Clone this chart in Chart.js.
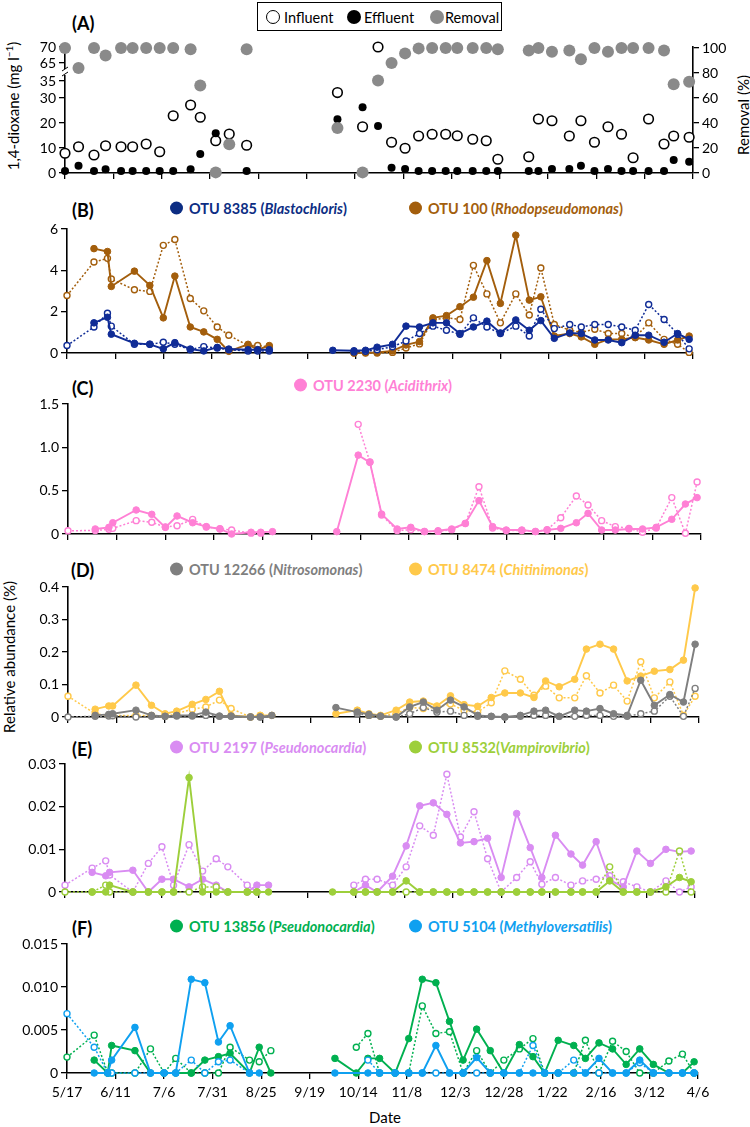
<!DOCTYPE html>
<html><head><meta charset="utf-8">
<script src="https://cdn.jsdelivr.net/npm/chart.js@4.4.1/dist/chart.umd.min.js"></script>
<style>
body{margin:0;background:#fff;width:750px;height:1127px;position:relative;overflow:hidden;font-family:Lato,sans-serif;color:#000}
canvas{position:absolute;left:0}
.pl{position:absolute;font-weight:bold;font-size:18px;transform:translateY(-50%);white-space:nowrap}
.lg{position:absolute;font-weight:bold;font-size:14.5px;transform:translateY(-50%);white-space:nowrap;display:flex;align-items:center}
.dot{width:13px;height:13px;border-radius:50%;display:inline-block;margin-right:6px}
.ax{position:absolute;font-size:15px;white-space:nowrap;transform:translate(-50%,-50%)}
.rot{transform:translate(-50%,-50%) rotate(-90deg)}
#legA{position:absolute;left:257px;top:2px;width:243px;height:27px;border:1.3px solid #000;font-size:14.5px}
#legA .it{position:absolute;top:50%;transform:translateY(-50%);white-space:nowrap}
#legA .c{position:absolute;top:50%;width:14px;height:14px;border-radius:50%;transform:translate(-50%,-50%);box-sizing:border-box}
</style></head><body>

<div class="pl" style="left:72px;top:23px">(A)</div>
<div class="pl" style="left:72px;top:210px">(B)</div>
<div class="pl" style="left:72px;top:388px">(C)</div>
<div class="pl" style="left:71px;top:570px">(D)</div>
<div class="pl" style="left:72px;top:749px">(E)</div>
<div class="pl" style="left:72px;top:928px">(F)</div>

<div id="legA">
  <span class="c" style="left:15px;border:1.6px solid #000;background:#fff"></span><span class="it" style="left:26px">Influent</span>
  <span class="c" style="left:96px;background:#000"></span><span class="it" style="left:106px">Effluent</span>
  <span class="c" style="left:179px;background:#8a8a8a"></span><span class="it" style="left:187px">Removal</span>
</div>

<div class="lg" style="left:170px;top:208px;color:#0c2d83"><span class="dot" style="background:#0c2d83"></span>OTU 8385 (<i>Blastochloris</i>)</div>
<div class="lg" style="left:409px;top:208px;color:#a35e0c"><span class="dot" style="background:#a35e0c"></span>OTU 100 (<i>Rhodopseudomonas</i>)</div>
<div class="lg" style="left:294px;top:385px;color:#ff80d5"><span class="dot" style="background:#ff80d5"></span>OTU 2230 (<i>Acidithrix</i>)</div>
<div class="lg" style="left:170px;top:569px;color:#7f7f7f"><span class="dot" style="background:#7f7f7f"></span>OTU 12266 (<i>Nitrosomonas</i>)</div>
<div class="lg" style="left:409px;top:569px;color:#ffc94a"><span class="dot" style="background:#ffc94a"></span>OTU 8474 (<i>Chitinimonas</i>)</div>
<div class="lg" style="left:170px;top:747px;color:#d98cf2"><span class="dot" style="background:#d98cf2"></span>OTU 2197 (<i>Pseudonocardia</i>)</div>
<div class="lg" style="left:409px;top:747px;color:#9dcf3b"><span class="dot" style="background:#9dcf3b"></span>OTU 8532(<i>Vampirovibrio</i>)</div>
<div class="lg" style="left:170px;top:926px;color:#00b050"><span class="dot" style="background:#00b050"></span>OTU 13856 (<i>Pseudonocardia</i>)</div>
<div class="lg" style="left:409px;top:926px;color:#0fa0f0"><span class="dot" style="background:#0fa0f0"></span>OTU 5104 (<i>Methyloversatilis</i>)</div>

<div class="ax rot" style="left:12px;top:106px">1,4-dioxane (mg l<sup style="font-size:10px">−1</sup>)</div>
<div class="ax rot" style="left:743px;top:115px">Removal (%)</div>
<div class="ax rot" style="left:9px;top:657px">Relative abundance (%)</div>
<div class="ax" style="left:385px;top:1117px">Date</div>

<script>
// ---------- x axis (days since 5/17) ----------
const DATE_LABELS = ['5/17','6/11','7/6','7/31','8/25','9/19','10/14','11/8','12/3','12/28','1/22','2/16','3/12','4/6'];
const TICK_DAYS = [0,25,50,75,100,125,150,175,200,225,250,275,300,325];

// ---------- panel A ----------
const DAYS_A = [0,7,15,21,29,35,42,49,56,65,70,78,85,94,
  141,154,162,169,176,183,190,197,203,211,218,224,240,245,252,261,267,274,281,288,294,302,310,315,323];
const INFLUENT = [7.9,10.5,7.2,10.9,10.5,10.5,11.6,8.5,22.9,27.2,22.3,12.9,15.6,11.1,
  31.6,18.5,70,12.3,9.9,14.8,15.5,15.5,14.9,13.5,12.9,5.5,6.5,21.6,20.9,14.8,20.9,12.3,18.5,15.5,6.1,21.6,11.6,14.8,14.3];
const EFFLUENT = [0.8,2.9,0.8,1.5,0.8,0.8,0.8,0.8,0.8,1.5,7.6,15.9,12,0.8,
  21.5,26.3,18.8,2.1,1.6,0.8,0.8,0.8,0.8,0.8,0.8,0.8,0.8,0.8,1.6,1.6,2.9,0.8,1.6,0.8,0.8,0.8,0.8,5.2,4.5];
const REMOVAL = [100,84,100,94,100,100,100,100,100,99,70,0.5,23,99,
  36,0.5,74,88,95.7,99.7,100,100,100,100,100,99,98,100,97,98,91,100,97,100,100,100,98,71,73];
const A_LEFT_TICKS = [0,10,20,30,35,65,70];
const A_RIGHT_TICKS = [0,20,40,60,80,100];

// ---------- panels B-F sampling days ----------
const DAYS = [0,14,21,23,35,43,50,56,64,71,78,84,94,99,105,
  138,149,155,161,169,176,183,190,197,204,211,218,225,233,240,246,253,261,267,274,281,288,295,302,310,317,323];

// B
const OTU8385_FILL = [null,1.46,1.73,0.91,0.47,0.42,0.20,0.50,0.19,0.10,0.27,0.19,0.16,0.16,0.16,
  0.13,0.11,0.13,0.28,0.42,1.30,1.26,1.46,1.46,0.94,1.26,1.54,0.97,1.60,1.10,1.57,0.71,0.97,0.94,0.63,0.63,0.50,0.86,0.86,0.52,0.94,0.66];
const OTU8385_OPEN = [0.36,1.26,1.92,1.30,0.42,0.42,0.52,0.42,0.16,0.31,0.24,0.16,0.10,0.10,0.10,
  null,0.05,0.08,0.16,0.30,0.58,0.94,1.30,1.10,0.91,1.70,1.26,0.94,1.30,0.82,2.12,1.18,1.38,1.26,1.38,1.38,1.26,1.10,2.35,1.62,0.91,0.20];
const OTU100_FILL = [null,5.05,4.91,3.22,3.96,3.27,1.70,3.72,1.26,1.02,0.66,0.08,0.42,0.16,0.36,
  null,0.00,0.02,0.03,0.10,0.39,0.55,1.70,1.81,2.24,2.70,4.47,2.40,5.70,2.56,2.72,0.82,0.94,0.78,0.42,0.66,0.66,0.75,0.63,0.42,0.63,0.82];
const OTU100_OPEN = [2.78,4.40,4.58,3.58,3.06,2.98,5.21,5.49,2.64,2.04,1.26,0.86,0.36,0.36,0.30,
  null,0.00,0.00,0.00,0.03,0.24,0.44,1.60,1.70,1.62,4.24,2.86,1.46,2.86,1.84,4.11,1.38,1.10,1.00,1.15,0.94,0.94,0.75,1.46,0.66,0.42,0.03];
const B_TICKS = [0,2,4,6], B_LABELS = ['0','2','4','6'];

// C
const OTU2230_FILL = [null,0.058,0.077,0.13,0.277,0.227,0.077,0.208,0.13,0.085,0.058,0.0,0.02,0.02,0.027,
  0.027,0.91,0.827,0.23,0.058,0.077,0.027,0.038,0.058,0.123,0.385,0.085,0.046,0.046,0.027,0.046,0.065,0.13,0.238,0.046,0.046,0.058,0.058,0.077,0.17,0.346,0.42];
const OTU2230_OPEN = [0.038,0.04,0.054,0.065,0.154,0.135,0.08,0.096,0.169,0.08,0.06,0.046,0.01,0.01,null,
  null,1.265,0.83,0.22,0.04,0.05,0.03,0.03,0.05,0.12,0.546,0.07,0.04,0.04,0.03,0.05,0.188,0.438,0.335,0.154,0.085,0.065,0.02,0.07,0.42,0.008,0.6];
const C_TICKS = [0,0.5,1.0,1.5], C_LABELS = ['0','0.5','1.0','1.5'];

// D
const OTU12266_FILL = [null,0.005,0.008,0.01,0.021,0.005,0.002,0.005,0.005,0.015,0.003,0.003,0.0,0.0,0.005,
  0.029,0.015,0.008,0.003,0.0,0.031,0.046,0.021,0.052,0.031,0.005,0.002,0.0,0.005,0.018,0.021,0.002,0.021,0.018,0.026,0.01,0.005,0.113,0.036,0.069,0.046,0.224];
const OTU12266_OPEN = [0.0,0.002,0.003,0.004,0.0,0.002,0.002,0.003,0.003,0.005,0.002,0.002,0.0,0.0,null,
  null,0.01,0.005,0.002,0.0,0.01,0.029,0.015,0.018,0.005,0.002,0.002,0.0,0.002,0.005,0.005,0.002,0.002,0.005,0.005,0.002,0.002,0.01,0.018,0.064,0.002,0.088];
const OTU8474_FILL = [null,0.024,0.034,0.034,0.098,0.036,0.01,0.018,0.039,0.054,0.079,0.005,0.0,0.005,0.005,
  0.01,0.021,0.01,0.005,0.021,0.046,0.049,0.034,0.065,0.038,0.033,0.06,0.074,0.074,0.06,0.111,0.093,0.116,0.209,0.224,0.209,0.111,0.126,0.141,0.146,0.175,0.397];
const OTU8474_OPEN = [0.064,0.01,0.005,0.005,0.005,0.005,0.002,0.01,0.024,0.031,0.052,0.026,0.0,0.005,null,
  null,0.02,0.005,0.002,0.01,0.03,0.026,0.03,0.04,0.02,0.015,0.044,0.142,0.116,0.067,0.095,0.059,0.059,0.127,0.074,0.098,0.049,0.17,0.059,0.108,0.005,0.064];
const D_TICKS = [0,0.1,0.2,0.3,0.4], D_LABELS = ['0','0.1','0.2','0.3','0.4'];

// E
const OTU2197_FILL = [null,0.0046,0.0038,0.0046,0.0051,0.0,0.003,0.003,0.0012,0.003,0.0016,0.0,0.0,0.0016,0.0016,
  null,0.0,0.0016,0.0,0.0037,0.0108,0.0202,0.0209,0.0182,0.0115,0.0118,0.0126,0.0034,0.0184,0.0104,0.0034,0.0133,0.0089,0.0063,0.0118,0.0028,0.0012,0.0096,0.0067,0.01,0.0094,0.0096];
const OTU2197_OPEN = [0.0016,0.0056,0.0073,0.004,0.0,0.0067,0.0106,0.0016,0.0111,0.0049,0.0078,0.0059,0.0016,0.0,null,
  null,0.0016,0.003,0.003,0.0016,0.0059,0.0155,0.0133,0.0276,0.0129,0.0188,0.0078,0.0,0.0034,0.0071,0.0018,0.0034,0.0016,0.0026,0.003,0.0038,0.0024,0.0012,0.0,0.0026,0.0,0.0012];
const OTU8532_FILL = [null,0,0,0.0016,0,0,0,0,0.0268,0,0,0,0,0,0,
  0,0,0,0,0,0.0026,0,0,0,0,0,0,0,0,0,0,0,0,0,0,0.0026,0,0,0,0.0012,0.0034,0.0024];
const OTU8532_OPEN = [0,0,0.0016,0,0,0,0,0,0,0.0012,0.0012,0,0,0,null,
  null,0,0,0,0,0,0,0,0,0,0,0,0,0,0,0,0,0,0,0,0.0059,0,0,0,0,0.0096,0];
const E_TICKS = [0,0.01,0.02,0.03], E_LABELS = ['0','0.01','0.02','0.03'];

// F
const OTU13856_FILL = [null,0.0015,0,0.0032,0.0026,0,0,0,0,0.0015,0.0019,0.0023,0,0.003,0,
  0.0017,0,0.0017,0.0017,0,0.004,0.0109,0.0105,0.006,0.0015,0.0051,0.0026,0,0.0033,0.0019,0,0.0038,0.0032,0.0017,0.0035,0.0028,0.001,0.0028,0.001,0,0,0.0013];
const OTU13856_OPEN = [0.00185,0.0044,0,0,0,0.0028,0,0.0017,0,0,0,0.003,0.0015,0.0013,0.0026,
  null,0.003,0.0046,0,0,0,0.0078,0.0046,0.0048,0,0.0026,0,0.0015,0.0028,0.004,0,0,0,0.0038,0,0.0037,0.0025,0,0,0.0014,0.0022,0];
const OTU5104_FILL = [null,0,0,0.0015,0.0053,0,0,0,0.0109,0.0105,0.0036,0.0055,0,0,null,
  0,null,0,0,0,0,0,0.0032,0,0,0.0018,0,0,0,0,0,0,0,0,0.0017,0,0,0.0015,0,0,0,0];
const OTU5104_OPEN = [0.0069,0.003,0,0,0,0,0,0,0.0015,0,0.0013,0.0015,0,null,null,
  null,null,0.0015,0,0,0,0,0,0,0,0,0,0,0,0.0032,0,0,0.0015,0,0,0,0,0.0012,0,0,0,0];
const F_TICKS = [0,0.005,0.01,0.015], F_LABELS = ['0','0.005','0.010','0.015'];

// ---------- helpers ----------
const FONT = {family:'Lato', size:14};
function brk(v){ // broken dioxane axis: 0-35 then 65-70
  if (v <= 30) return v;
  if (v <= 35) return 30 + (v-30)*1.36;
  return 44 + (v-65)*1.28;
}
function xAxis(box, canvasBottom, showLabels){
  return {type:'linear', min:0, max:325, position:'bottom',
    afterBuildTicks: s => { s.ticks = TICK_DAYS.map(v => ({value:v})); },
    afterFit: s => { s.height = canvasBottom - box.bottom; },
    ticks:{display:showLabels, autoSkip:false, maxRotation:0, color:'#000', font:FONT, padding:5,
      callback:(v,i) => DATE_LABELS[i]},
    grid:{drawOnChartArea:false, drawTicks:true, tickLength:6, color:'#000', lineWidth:1.3},
    border:{color:'#000', width:1.6}};
}
function yAxis(ticksArr, labels, min, max, width, pos){
  return {type:'linear', position:pos||'left', min, max,
    afterBuildTicks: s => { s.ticks = ticksArr.map(v => ({value:v})); },
    afterFit: s => { s.width = width; },
    ticks:{color:'#000', font:FONT, padding:3, callback:(v,i) => labels[i]},
    grid:{drawOnChartArea:false, drawTicks:true, tickLength:6, color:'#000', lineWidth:1.3},
    border:{color:'#000', width:1.6}};
}
function series(vals, color, open, order){
  return {data: DAYS.map((x,i) => ({x, y: vals[i]})).filter(p => p.y !== null && p.y !== undefined),
    borderColor:color, backgroundColor:color,
    borderWidth: open ? 1.5 : 1.9, borderDash: open ? [2,2] : [],
    pointRadius: open ? 3 : 3.3, pointBackgroundColor: open ? '#fff' : color,
    pointBorderColor: color, pointBorderWidth: open ? 1.4 : 1,
    spanGaps: 20, clip: false, order, tension: 0};
}
function panel(top, height, box, scales, datasets, plugins){
  const c = document.createElement('canvas');
  c.width = 750; c.height = height;
  c.style.top = top + 'px'; c.style.width = '750px'; c.style.height = height + 'px';
  document.body.appendChild(c);
  const hasRight = !!scales.y2;
  new Chart(c, {type:'line', data:{datasets},
    options:{responsive:false, animation:false, devicePixelRatio:1, events:[],
      layout:{padding:{top: box.top - top, left:0, bottom:0, right: hasRight ? 0 : 750 - box.right}},
      plugins:{legend:{display:false}, tooltip:{enabled:false}},
      scales},
    plugins: plugins || []});
}

// ---------- Panel A ----------
const breakPlugin = {id:'axisBreak', afterDraw(chart){
  const ctx = chart.ctx, x = chart.chartArea.left, ys = chart.scales.y;
  const yb = (ys.getPixelForValue(brk(35)) + ys.getPixelForValue(brk(65))) / 2;
  ctx.save();
  ctx.fillStyle = '#fff'; ctx.fillRect(x-4, yb-3, 8, 6);
  ctx.strokeStyle = '#000'; ctx.lineWidth = 1;
  ctx.beginPath();
  ctx.moveTo(x-3, yb-1); ctx.lineTo(x+3, yb-5);
  ctx.moveTo(x-3, yb+4); ctx.lineTo(x+3, yb);
  ctx.stroke(); ctx.restore();
}};
(function(){
  const box = {left:65, right:693, top:47, bottom:173};
  const top = 0, h = 185;
  const yL = yAxis(A_LEFT_TICKS.map(brk), A_LEFT_TICKS.map(String), 0, 50.4, 65);
  const yR = yAxis(A_RIGHT_TICKS, A_RIGHT_TICKS.map(String), 0, 100.8, 750 - box.right, 'right');
  panel(top, h, box, {x: xAxis(box, top + h, false), y: yL, y2: yR}, [
    {data: DAYS_A.map((x,i) => ({x, y: REMOVAL[i]})), yAxisID:'y2', showLine:false,
      pointRadius:6, pointBackgroundColor:'#8a8a8a', pointBorderColor:'#8a8a8a', pointBorderWidth:0, clip:false, order:0},
    {data: DAYS_A.map((x,i) => ({x, y: brk(EFFLUENT[i])})), yAxisID:'y', showLine:false,
      pointRadius:4, pointBackgroundColor:'#000', pointBorderColor:'#000', pointBorderWidth:0, clip:false, order:1},
    {data: DAYS_A.map((x,i) => ({x, y: brk(INFLUENT[i])})), yAxisID:'y', showLine:false,
      pointRadius:4.8, pointBackgroundColor:'#fff', pointBorderColor:'#000', pointBorderWidth:1.6, clip:false, order:2}
  ], [breakPlugin]);
})();

// ---------- Panel B ----------
(function(){
  const box = {left:67, right:693, top:229, bottom:353};
  const top = 186, h = 180;
  panel(top, h, box, {x: xAxis(box, top+h, false), y: yAxis(B_TICKS, B_LABELS, 0, 6, box.left)}, [
    series(OTU8385_FILL, '#102c96', false, 0),
    series(OTU8385_OPEN, '#102c96', true, 1),
    series(OTU100_FILL, '#a35e0c', false, 2),
    series(OTU100_OPEN, '#a35e0c', true, 3)
  ]);
})();

// ---------- Panel C ----------
(function(){
  const box = {left:68, right:701, top:404, bottom:534};
  const top = 366, h = 181;
  panel(top, h, box, {x: xAxis(box, top+h, false), y: yAxis(C_TICKS, C_LABELS, 0, 1.5, box.left)}, [
    series(OTU2230_FILL, '#ff80d5', false, 0),
    series(OTU2230_OPEN, '#ff80d5', true, 1)
  ]);
})();

// ---------- Panel D ----------
(function(){
  const box = {left:68, right:699, top:587, bottom:717};
  const top = 547, h = 183;
  panel(top, h, box, {x: xAxis(box, top+h, false), y: yAxis(D_TICKS, D_LABELS, 0, 0.4, box.left)}, [
    series(OTU12266_FILL, '#7f7f7f', false, 0),
    series(OTU12266_OPEN, '#7f7f7f', true, 1),
    series(OTU8474_FILL, '#ffc94a', false, 2),
    series(OTU8474_OPEN, '#ffc94a', true, 3)
  ]);
})();

// ---------- Panel E ----------
(function(){
  const box = {left:65, right:695, top:764, bottom:892};
  const top = 730, h = 175;
  panel(top, h, box, {x: xAxis(box, top+h, false), y: yAxis(E_TICKS, E_LABELS, 0, 0.03, box.left)}, [
    series(OTU8532_FILL, '#9dcf3b', false, 0),
    series(OTU8532_OPEN, '#9dcf3b', true, 1),
    series(OTU2197_FILL, '#d98cf2', false, 2),
    series(OTU2197_OPEN, '#d98cf2', true, 3)
  ]);
})();

// ---------- Panel F ----------
(function(){
  const box = {left:67, right:698, top:944, bottom:1073};
  const top = 905, h = 222;
  panel(top, h, box, {x: xAxis(box, top+h, true), y: yAxis(F_TICKS, F_LABELS, 0, 0.015, box.left)}, [
    series(OTU5104_FILL, '#0fa0f0', false, 0),
    series(OTU5104_OPEN, '#0fa0f0', true, 1),
    series(OTU13856_FILL, '#00b050', false, 2),
    series(OTU13856_OPEN, '#00b050', true, 3)
  ]);
})();
</script>
</body></html>
